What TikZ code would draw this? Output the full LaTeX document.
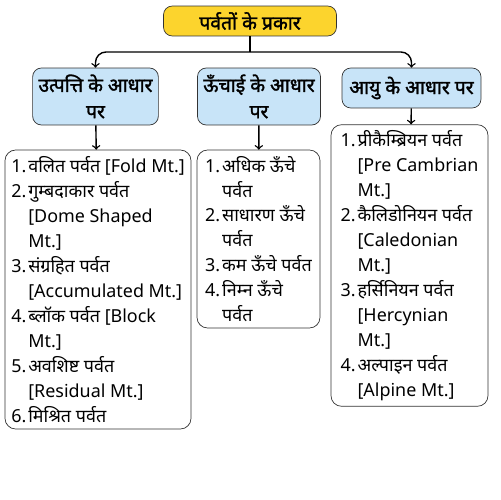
\documentclass[tikz,border=0pt]{standalone}
\usepackage{fontspec}
\setmainfont{Noto Sans}[Script=Devanagari, BoldFont={Noto Sans}, BoldFeatures={FakeBold=1.6}]
\usepackage{tikz}

\definecolor{headyellow}{RGB}{252,212,45}
\definecolor{headblue}{RGB}{200,228,248}
\newcommand\num[1]{\makebox[0.95em][l]{#1}}
\newcommand\cont{\hspace*{0.95em}}

\begin{document}
\begin{tikzpicture}[
      x=0.02cm, y=-0.02cm,
      head/.style={draw=black!80, rounded corners=5pt, fill=#1, align=center, font=\bfseries\fontsize{11}{15}\selectfont},
      listbox/.style={draw=black!80, rounded corners=6pt, align=left, font=\fontsize{10.2}{14.2}\selectfont}
    ]
      \useasboundingbox (0,0) rectangle (500,500);

      \node[head=headyellow, minimum width=3.46cm, minimum height=0.6cm] (types) at (250,21) {पर्वतों के प्रकार};

      \node[head=headblue, minimum width=2.38cm, minimum height=1.14cm] (origin) at (95.5,96.5) {उत्पत्ति के आधार\\पर};
      \node[head=headblue, minimum width=2.36cm, minimum height=1.14cm] (height) at (259,96.5) {ऊँचाई के आधार\\पर};
      \node[head=headblue, minimum width=2.78cm, minimum height=0.8cm] (age) at (411.5,88) {आयु के आधार पर};

      \node[listbox, minimum width=3.72cm, minimum height=5.58cm] (originlist) at (98,289.5) {%
        \num{1.}वलित पर्वत [Fold Mt.]\\
        \num{2.}गुम्बदाकार पर्वत\\
        \cont[Dome Shaped\\
        \cont Mt.]\\
        \num{3.}संग्रहित पर्वत\\
        \cont[Accumulated Mt.]\\
        \num{4.}ब्लॉक पर्वत [Block\\
        \cont Mt.]\\
        \num{5.}अवशिष्ट पर्वत\\
        \cont[Residual Mt.]\\
        \num{6.}मिश्रित पर्वत};

      \node[listbox, minimum width=2.46cm, minimum height=3.56cm] (heightlist) at (258.5,239) {%
        \num{1.}अधिक ऊँचे\\
        \cont पर्वत\\
        \num{2.}साधारण ऊँचे\\
        \cont पर्वत\\
        \num{3.}कम ऊँचे पर्वत\\
        \num{4.}निम्न ऊँचे\\
        \cont पर्वत};

      \node[listbox, minimum width=3.14cm, minimum height=5.58cm] (agelist) at (409.5,265.5) {%
        \num{1.}प्रीकैम्ब्रियन पर्वत\\
        \cont[Pre Cambrian\\
        \cont Mt.]\\
        \num{2.}कैलिडोनियन पर्वत\\
        \cont[Caledonian\\
        \cont Mt.]\\
        \num{3.}हर्सिनियन पर्वत\\
        \cont[Hercynian\\
        \cont Mt.]\\
        \num{4.}अल्पाइन पर्वत\\
        \cont[Alpine Mt.]};

      \coordinate (split) at (250,52);

      \draw[thick] (types) -- (split);
      \draw[->, thick, rounded corners=6pt] (split) -| (origin);
      \draw[->, thick, rounded corners=6pt] (split) -| (age);
      \draw[->, thick] (origin) -- (originlist);
      \draw[->, thick] (height) -- (heightlist);
      \draw[->, thick] (age) -- (agelist);
    \end{tikzpicture}
\end{document}
